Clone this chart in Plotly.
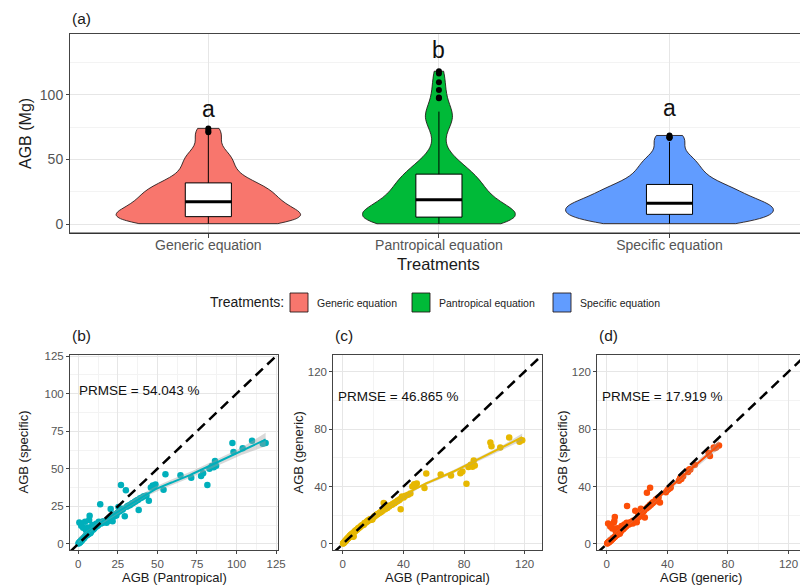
import numpy as np
import plotly.graph_objects as go

# ---------------------------------------------------------------------------
# Data: above-ground biomass (Mg) of each tree, estimated with three equations
# ---------------------------------------------------------------------------
categories = ["Generic equation", "Pantropical equation", "Specific equation"]
group_letters = ["a", "b", "a"]

agb_pantropical = [
    0.2, 0.4, 0.5, 0.7, 0.8, 1.1, 1.2, 1.4, 1.5, 1.6, 1.9, 2.0, 2.1, 2.4, 2.6, 2.7, 3.0, 3.1, 3.5, 3.6, 3.7, 4.1, 4.3, 4.4, 4.8, 4.9, 5.2,
    5.5, 5.8, 6.1, 6.3, 6.6, 6.9, 7.2, 7.6, 8.1, 8.3, 8.9, 9.6, 10.1, 10.5, 11.3, 11.8, 12.6, 13.0, 13.9, 14.3, 15.1, 15.8, 16.2, 16.8, 17.5, 17.9, 18.5,
    19.1, 19.6, 20.5, 21.1, 21.7, 22.6, 23.1, 24.1, 24.9, 25.4, 26.3, 27.0, 27.9, 28.4, 29.4, 30.1, 30.7, 31.5, 32.5, 33.1, 34.1, 34.7, 35.7, 36.3, 37.2, 37.9,
    38.2, 39.1, 40.2, 41.4, 43.1, 44.6, 45.9, 47.1, 47.8, 48.8, 53.9, 55.1, 64.6, 71.4, 77.6, 78.9, 81.6, 82.9, 84.4, 85.6, 86.4, 87.1, 97.4, 98.1, 103.9, 109.8, 116.6, 118.4,
]
agb_generic = [
    0.3, 0.5, 0.7, 0.9, 1.0, 1.4, 1.3, 1.7, 1.9, 1.8, 2.3, 2.4, 2.6, 2.8, 3.2, 3.1, 3.6, 3.7, 4.1, 4.3, 4.2, 4.9, 4.6, 5.3, 5.5, 5.9, 6.2,
    6.4, 6.5, 7.1, 6.9, 7.4, 5.0, 5.3, 8.5, 8.8, 9.2, 9.8, 10.1, 10.9, 11.2, 11.6, 12.3, 13.0, 13.1, 13.4, 14.6, 14.8, 15.6, 15.7, 16.5, 16.6, 17.2, 17.4,
    16.9, 17.3, 18.8, 19.4, 19.8, 20.5, 20.8, 21.6, 22.1, 22.5, 23.2, 28.6, 24.1, 24.8, 25.1, 26.5, 26.2, 26.9, 27.3, 28.0, 28.4, 29.1, 29.5, 30.2, 30.5, 31.3,
    24.2, 33.1, 32.4, 33.5, 34.2, 35.1, 40.1, 41.6, 40.9, 42.1, 39.0, 49.1, 48.4, 47.6, 49.2, 50.4, 42.0, 53.6, 55.1, 53.8, 58.1, 54.6, 70.6, 68.1, 67.2, 74.1, 71.1, 72.2,
]
agb_specific = [
    0.3, 0.6, 0.7, 14.3, 1.0, 1.4, 1.3, 1.7, 1.8, 1.7, 12.2, 2.3, 2.5, 2.7, 3.0, 3.0, 3.5, 10.8, 3.9, 4.1, 4.0, 4.7, 14.8, 5.1, 5.3, 9.1, 6.0,
    6.0, 6.2, 11.0, 6.5, 6.9, 16.0, 18.7, 7.1, 7.9, 8.6, 12.6, 9.7, 10.5, 10.8, 13.5, 11.8, 12.5, 14.8, 26.5, 13.6, 14.0, 15.2, 14.4, 14.9, 15.0, 14.2, 15.3,
    15.4, 16.1, 23.2, 17.2, 15.1, 18.3, 19.8, 19.0, 20.9, 24.6, 21.7, 39.2, 22.7, 23.4, 18.5, 35.7, 24.7, 25.4, 25.8, 26.3, 27.1, 27.3, 28.1, 28.4, 29.1, 29.4,
    22.6, 30.4, 30.9, 31.7, 32.3, 28.8, 37.6, 38.9, 38.3, 39.5, 36.1, 46.4, 45.8, 44.1, 45.3, 47.1, 39.2, 50.1, 51.8, 51.1, 55.2, 52.1, 67.1, 61.2, 63.6, 68.6, 66.6, 67.2,
]
prmse_labels = ["PRMSE = 54.043 %", "PRMSE = 46.865 %", "PRMSE = 17.919 %"]

# ---------------------------------------------------------------------------
# Styling
# ---------------------------------------------------------------------------
W, H = 800, 588
FONT = "Arial, Liberation Sans, sans-serif"
fill_colors = ["#F8766D", "#00BA38", "#619CFF"]
outline = "rgba(30,20,20,0.85)"
point_colors = ["#00AFBB", "#E7B800", "#FC4E07"]
grid_major = "#e6e6e6"
grid_minor = "#f3f3f3"
border = "#444444"
tick_grey = "#555555"
letter_y = [89, 135, 90]
violin_widths = [0.80, 0.66, 0.90]   # full width of each violin on the category axis


def px(x):
    return x / W


def py(y):
    return 1 - y / H


def bw_nrd0(v):
    v = np.asarray(v, float)
    q75, q25 = np.percentile(v, [75, 25])
    lo = min(v.std(ddof=1), (q75 - q25) / 1.34)
    return 0.9 * lo * len(v) ** -0.2


def loess(x, y, grid, span=0.75):
    """Local quadratic regression with tricube weights plus a 95% band."""
    x = np.asarray(x, float)
    y = np.asarray(y, float)
    n = len(x)
    q = int(np.floor(n * span))

    def row(x0):
        d = np.abs(x - x0)
        h = np.sort(d)[q - 1]
        u = np.clip(d / h, 0, 1)
        w = (1 - u ** 3) ** 3
        X = np.column_stack([np.ones(n), x - x0, (x - x0) ** 2])
        XtW = X.T * w
        return np.linalg.solve(XtW @ X, XtW)[0]

    Lg = np.array([row(g) for g in grid])
    Ld = np.array([row(v) for v in x])
    fit = Lg @ y
    resid = y - Ld @ y
    M = np.eye(n) - Ld
    d1 = np.trace(M.T @ M)
    sigma = np.sqrt(np.sum(resid ** 2) / d1)
    se = sigma * np.sqrt(np.sum(Lg ** 2, axis=1))
    return fit, fit - 1.97 * se, fit + 1.97 * se


fig = go.Figure()

# ---------------------------------------------------------------------------
# (a) violins with boxplots
# ---------------------------------------------------------------------------
series = [agb_generic, agb_pantropical, agb_specific]
for i, (vals, col) in enumerate(zip(series, fill_colors)):
    pos = i + 1
    fig.add_trace(go.Violin(
        x0=pos, y=vals, xaxis="x", yaxis="y",
        bandwidth=bw_nrd0(vals), spanmode="hard",
        scalemode="width", width=violin_widths[i],
        fillcolor=col, line=dict(color=outline, width=1),
        points=False, box_visible=False, meanline_visible=False,
        showlegend=False, hoverinfo="skip",
    ))
    fig.add_trace(go.Box(
        x0=pos, y=vals, xaxis="x", yaxis="y", width=0.2,
        fillcolor="white", line=dict(color="black", width=1),
        whiskerwidth=0, boxpoints="outliers", jitter=0, pointpos=0,
        marker=dict(color="black", size=6),
        showlegend=False, hoverinfo="skip",
    ))
    med = float(np.median(vals))
    fig.add_trace(go.Scatter(
        x=[pos - 0.1, pos + 0.1], y=[med, med], xaxis="x", yaxis="y",
        mode="lines", line=dict(color="black", width=3),
        showlegend=False, hoverinfo="skip",
    ))

# ---------------------------------------------------------------------------
# (b)-(d) pairwise scatter plots with loess trend and 1:1 line
# ---------------------------------------------------------------------------
pairs = [
    (agb_pantropical, agb_specific, "x2", "y2", [-5.2, 126.4], [-4.0, 125.7]),
    (agb_pantropical, agb_generic, "x3", "y3", [-6.25, 131.25], [-4.2, 131.6]),
    (agb_generic, agb_specific, "x4", "y4", [-6.25, 127.55], [-4.2, 131.6]),
]
for k, (xv, yv, xa, ya, xr, yr) in enumerate(pairs):
    col = point_colors[k]
    fig.add_trace(go.Scatter(
        x=xv, y=yv, xaxis=xa, yaxis=ya, mode="markers",
        marker=dict(color=col, size=6.5), showlegend=False, hoverinfo="skip",
    ))
    grid = np.linspace(min(xv), max(xv), 80)
    fit, lo, hi = loess(xv, yv, grid)
    fig.add_trace(go.Scatter(
        x=grid, y=hi, xaxis=xa, yaxis=ya, mode="lines",
        line=dict(width=0, color="rgba(0,0,0,0)"), showlegend=False, hoverinfo="skip",
    ))
    fig.add_trace(go.Scatter(
        x=grid, y=lo, xaxis=xa, yaxis=ya, mode="lines", fill="tonexty",
        fillcolor="rgba(160,160,160,0.4)",
        line=dict(width=0, color="rgba(0,0,0,0)"), showlegend=False, hoverinfo="skip",
    ))
    fig.add_trace(go.Scatter(
        x=grid, y=fit, xaxis=xa, yaxis=ya, mode="lines",
        line=dict(color=col, width=2), showlegend=False, hoverinfo="skip",
    ))
    a0 = min(xr[0], yr[0])
    a1 = max(xr[1], yr[1])
    fig.add_trace(go.Scatter(
        x=[a0, a1], y=[a0, a1], xaxis=xa, yaxis=ya, mode="lines",
        line=dict(color="black", width=2.5, dash="10px,6px"),
        showlegend=False, hoverinfo="skip",
    ))

# ---------------------------------------------------------------------------
# Axes
# ---------------------------------------------------------------------------
top_x = [70, 800]
top_y = [34.3, 233.3]
bot_y = [355, 550]
panels_x = [[70, 278.3], [333.3, 541.7], [597.3, 800]]

common = dict(showgrid=True, gridcolor=grid_major, gridwidth=1, zeroline=False,
              showline=True, linecolor=border, linewidth=1, ticks="outside",
              ticklen=3, tickcolor=border, automargin=False)

layout = dict(
    width=W, height=H, autosize=False,
    margin=dict(l=0, r=0, t=0, b=0),
    paper_bgcolor="white", plot_bgcolor="white",
    font=dict(family=FONT, color="#1a1a1a"),
    violinmode="overlay", boxmode="overlay", showlegend=False,
)
layout["xaxis"] = dict(common, domain=[px(top_x[0]), px(top_x[1])], range=[0.4, 3.566],
                       tickvals=[1, 2, 3], ticktext=categories, mirror=True,
                       tickfont=dict(size=14, color=tick_grey), anchor="y", ticklen=4,
                       ticklabelstandoff=-5)
layout["yaxis"] = dict(common, domain=[py(top_y[1]), py(top_y[0])], range=[-7.2, 147],
                       tickvals=[0, 50, 100], mirror=False, anchor="x",
                       tickfont=dict(size=14, color=tick_grey),
                       minor=dict(dtick=25, tick0=0, showgrid=True, gridcolor=grid_minor, gridwidth=1))

scatter_ticks = [(25, 12.5), (40, 20), (40, 20)]
for k, (xv, yv, xa, ya, xr, yr) in enumerate(pairs):
    n = k + 2
    major, minor = scatter_ticks[k]
    vals = list(np.arange(0, 126, major))
    mirror_y = k < 2
    layout[f"xaxis{n}"] = dict(common, domain=[px(panels_x[k][0]), px(panels_x[k][1])],
                               range=xr, tickvals=vals, mirror=True, anchor=f"y{n}",
                               tickfont=dict(size=11.5, color=tick_grey),
                               minor=dict(dtick=minor, tick0=0, showgrid=True,
                                          gridcolor=grid_minor, gridwidth=1))
    layout[f"yaxis{n}"] = dict(common, domain=[py(bot_y[1]), py(bot_y[0])],
                               range=yr, tickvals=vals, mirror=mirror_y, anchor=f"x{n}",
                               tickfont=dict(size=11.5, color=tick_grey),
                               minor=dict(dtick=minor, tick0=0, showgrid=True,
                                          gridcolor=grid_minor, gridwidth=1))
fig.update_layout(**layout)

# ---------------------------------------------------------------------------
# Text: panel tags, axis titles, letters, PRMSE
# ---------------------------------------------------------------------------
ann = []


def add_text(text, x, y, size, **kw):
    d = dict(text=text, x=x, y=y, xref="paper", yref="paper", showarrow=False,
             font=dict(size=size, family=FONT, color=kw.pop("color", "#1a1a1a")))
    d.update(kw)
    ann.append(d)


add_text("(a)", px(70), py(18), 15.5, xanchor="left", yanchor="middle")
add_text("AGB (Mg)", px(25), py(134), 16, textangle=-90, xanchor="center", yanchor="middle")
add_text("Treatments", px(439), py(264), 16.5, xanchor="center", yanchor="middle")

for i, letter in enumerate(group_letters):
    ann.append(dict(text=letter, x=i + 1, y=letter_y[i], xref="x", yref="y", showarrow=False,
                    xanchor="center", yanchor="middle", font=dict(size=23, family=FONT, color="#111")))

tags = ["(b)", "(c)", "(d)"]
xtitles = ["AGB (Pantropical)", "AGB (Pantropical)", "AGB (generic)"]
ytitles = ["AGB (specific)", "AGB (generic)", "AGB (specific)"]
ytitle_x = [23, 298, 562]
for k in range(3):
    x0, x1 = panels_x[k]
    add_text(tags[k], px(x0), py(335), 15.5, xanchor="left", yanchor="middle")
    full_right = x0 + (panels_x[0][1] - panels_x[0][0])
    add_text(xtitles[k], px((x0 + full_right) / 2), py(577), 13, xanchor="center", yanchor="middle")
    add_text(ytitles[k], px(ytitle_x[k]), py((bot_y[0] + bot_y[1]) / 2), 13, textangle=-90,
             xanchor="center", yanchor="middle")

prmse_pos = [(-1.0, 102.4), (-4.4, 103), (-4.4, 103)]
for k in range(3):
    n = k + 2
    ann.append(dict(text=prmse_labels[k], x=prmse_pos[k][0], y=prmse_pos[k][1],
                    xref=f"x{n}", yref=f"y{n}", showarrow=False, xanchor="left", yanchor="middle",
                    font=dict(size=13.5, family=FONT, color="#111")))

# ---------------------------------------------------------------------------
# Legend (fill key for each treatment) and the heavier baseline of panel (a)
# ---------------------------------------------------------------------------
shapes = [dict(type="line", xref="x domain", yref="y domain", x0=0, x1=1, y0=0, y1=0,
               line=dict(color="#333333", width=1.6))]
legend_y = [293, 312]
key_left = [290, 412, 553]
add_text("Treatments:", px(208), py(302), 14, xanchor="left", yanchor="middle")
for i, cat in enumerate(categories):
    shapes.append(dict(type="rect", xref="paper", yref="paper",
                       x0=px(key_left[i]), x1=px(key_left[i] + 18),
                       y0=py(legend_y[1]), y1=py(legend_y[0]),
                       fillcolor=fill_colors[i], line=dict(color=outline, width=1)))
    add_text(cat, px(key_left[i] + 25), py(302.5), 10.5, xanchor="left", yanchor="middle",
             color="#222")

fig.update_layout(annotations=ann, shapes=shapes)
fig.write_html("out.html")
